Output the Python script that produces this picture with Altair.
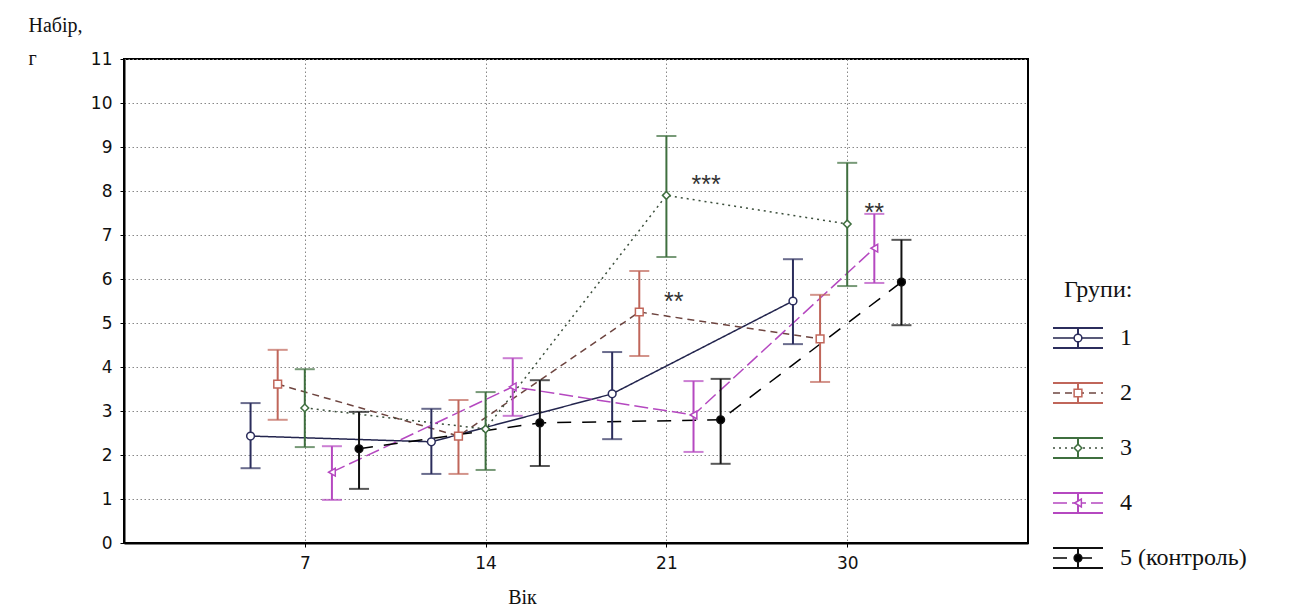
import altair as alt
import pandas as pd

# ---- data ----
days = ["7", "14", "21", "30"]
groups = ["1", "2", "3", "4", "5 (контроль)"]

g1_mean = [2.43, 2.30, 3.39, 5.50]
g1_lo = [1.70, 1.57, 2.36, 4.52]
g1_hi = [3.18, 3.05, 4.34, 6.45]

g2_mean = [3.61, 2.43, 5.25, 4.64]
g2_lo = [2.80, 1.57, 4.25, 3.66]
g2_hi = [4.39, 3.25, 6.18, 5.64]

g3_mean = [3.07, 2.59, 7.90, 7.25]
g3_lo = [2.18, 1.66, 6.50, 5.84]
g3_hi = [3.95, 3.43, 9.25, 8.64]

g4_mean = [1.61, 3.55, 2.91, 6.70]
g4_lo = [0.98, 2.89, 2.07, 5.91]
g4_hi = [2.20, 4.20, 3.68, 7.48]

g5_mean = [2.14, 2.73, 2.80, 5.93]
g5_lo = [1.23, 1.75, 1.80, 4.95]
g5_hi = [2.98, 3.70, 3.73, 6.89]

ann_text = ["***", "**", "**"]
ann_x = [3.22, 3.04, 4.15]
ann_y = [8.32, 5.66, 7.68]

y_title = ["Набір,", "г"]
x_title = "Вік"
legend_title = "Групи:"

# ---- styles ----
bar_colors = ["#2b2d5c", "#c0665a", "#3f6f3f", "#b548c0", "#111111"]
line_colors = ["#23254e", "#6e4540", "#3c4f3c", "#b548c0", "#000000"]
dashes = [[1, 0], [7, 5], [2, 4], [14, 5], [14, 11]]
shapes = ["circle", "square", "diamond", "triangle-left", "circle"]
fills = ["white", "white", "white", "white", "black"]
offset_step = 0.15

means = [g1_mean, g2_mean, g3_mean, g4_mean, g5_mean]
los = [g1_lo, g2_lo, g3_lo, g4_lo, g5_lo]
his = [g1_hi, g2_hi, g3_hi, g4_hi, g5_hi]

rows = []
for gi, g in enumerate(groups):
    for di, d in enumerate(days):
        rows.append({
            "group": g, "day": d,
            "x": di + 1 + (gi - 2) * offset_step,
            "mean": means[gi][di], "lo": los[gi][di], "hi": his[gi][di],
        })
df = pd.DataFrame(rows)

leg = pd.DataFrame({"group": groups})
leg["ly"] = [279 + 55 * i for i in range(len(groups))]
leg["ly_top"] = leg["ly"] - 10
leg["ly_bot"] = leg["ly"] + 10

ann = pd.DataFrame({"t": ann_text, "x": ann_x, "y": ann_y})
ttl = pd.DataFrame({"t": [legend_title]})

label_js = "[" + ",".join("'%s'" % d for d in days) + "]"

xscale = alt.Scale(domain=[0, 5], nice=False, zero=False)
yscale = alt.Scale(domain=[0, 11], nice=False, zero=True)

color_s = alt.Color("group:N", scale=alt.Scale(domain=groups, range=bar_colors), legend=None)
stroke_s = alt.Stroke("group:N", scale=alt.Scale(domain=groups, range=line_colors), legend=None)
dash_s = alt.StrokeDash("group:N", scale=alt.Scale(domain=groups, range=dashes), legend=None)
shape_s = alt.Shape("group:N", scale=alt.Scale(domain=groups, range=shapes), legend=None)
fill_s = alt.Fill("group:N", scale=alt.Scale(domain=groups, range=fills), legend=None)

X = alt.X("x:Q", scale=xscale,
          axis=alt.Axis(values=[1, 2, 3, 4], labelExpr=label_js + "[datum.value-1]",
                        title=x_title, titleX=398, titleY=54, titleBaseline="middle",
                        titleFont="Liberation Serif",
                        titleFontSize=20, titleFontWeight="normal", titleAlign="center"))
Y = alt.Y("mean:Q", scale=yscale,
          axis=alt.Axis(values=list(range(0, 12)), title=y_title, titleAngle=0,
                        titleAlign="left", titleBaseline="top", titleX=-96, titleY=-44,
                        titleLineHeight=33, titleFont="Liberation Serif", titleFontSize=20,
                        titleFontWeight="normal"))

base = alt.Chart(df)

lines = base.mark_line(strokeWidth=1.5).encode(
    x=X, y=Y, stroke=stroke_s, strokeDash=dash_s, detail="group:N")

bars = base.mark_rule(strokeWidth=2).encode(
    x="x:Q", y="lo:Q", y2="hi:Q", color=color_s)
caps_lo = base.mark_tick(orient="horizontal", size=20, thickness=2).encode(
    x="x:Q", y="lo:Q", color=color_s)
caps_hi = base.mark_tick(orient="horizontal", size=20, thickness=2).encode(
    x="x:Q", y="hi:Q", color=color_s)
pts = base.mark_point(size=60, strokeWidth=1.5, opacity=1).encode(
    x="x:Q", y="mean:Q", color=color_s, shape=shape_s, fill=fill_s)

stars = alt.Chart(ann).mark_text(font="Liberation Sans", fontSize=25, color="#333",
                                 dy=8).encode(x="x:Q", y="y:Q", text="t:N")

# ---- legend built from the group list ----
lbase = alt.Chart(leg)
l_mid = lbase.mark_rule(strokeWidth=1.5).encode(
    x=alt.value(929), x2=alt.value(979), y=alt.Y("ly:Q", scale=None),
    stroke=stroke_s, strokeDash=dash_s)
l_top = lbase.mark_rule(strokeWidth=2).encode(
    x=alt.value(929), x2=alt.value(979), y=alt.Y("ly_top:Q", scale=None), color=color_s)
l_bot = lbase.mark_rule(strokeWidth=2).encode(
    x=alt.value(929), x2=alt.value(979), y=alt.Y("ly_bot:Q", scale=None), color=color_s)
l_vert = lbase.mark_rule(strokeWidth=2).encode(
    x=alt.value(954), y=alt.Y("ly_top:Q", scale=None), y2="ly_bot:Q", color=color_s)
l_pt = lbase.mark_point(size=60, strokeWidth=1.5, opacity=1).encode(
    x=alt.value(954), y=alt.Y("ly:Q", scale=None), color=color_s, shape=shape_s, fill=fill_s)
l_txt = lbase.mark_text(align="left", baseline="middle", font="Liberation Serif",
                        fontSize=24, color="#111").encode(
    x=alt.value(996), y=alt.Y("ly:Q", scale=None), text="group:N")
l_ttl = alt.Chart(ttl).mark_text(align="left", baseline="middle", font="Liberation Serif",
                                 fontSize=24, color="#111").encode(
    x=alt.value(940), y=alt.value(231), text="t:N")

chart = alt.layer(
    lines, bars, caps_lo, caps_hi, pts, stars,
    l_mid, l_top, l_bot, l_vert, l_pt, l_txt, l_ttl
).properties(
    width=904, height=484,
    autosize=alt.AutoSizeParams(type="none"),
    padding={"left": 124, "top": 59, "right": 281, "bottom": 69},
    background="white",
).configure_view(
    stroke="black", strokeWidth=2
).configure_axis(
    domainColor="black", domainWidth=2, gridColor="#888", gridDash=[1.5, 2.5], gridWidth=1,
    tickColor="black", tickSize=4, labelFont="DejaVu Sans", labelFontSize=17,
    labelColor="#111", titleColor="#111", labelPadding=8
)

chart.save("out.html", embed_options={"renderer": "svg", "actions": False})
